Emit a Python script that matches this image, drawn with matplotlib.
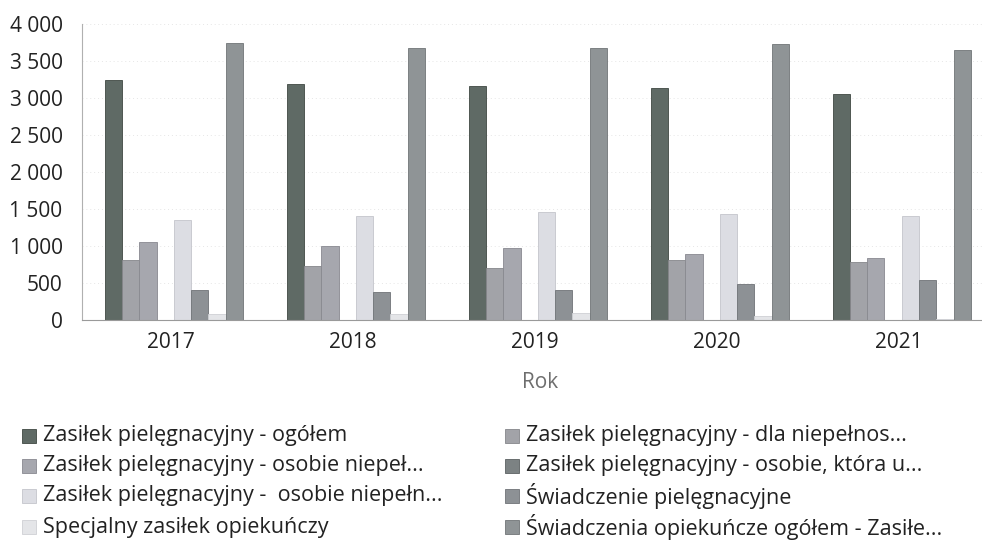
import matplotlib
matplotlib.use("Agg")
import matplotlib.pyplot as plt
from matplotlib.patches import Rectangle
from matplotlib.ticker import FuncFormatter
import numpy as np

plt.rcParams['font.family'] = ['Open Sans', 'DejaVu Sans']

years = ["2017", "2018", "2019", "2020", "2021"]

series_names = [
    "Zasiłek pielęgnacyjny - ogółem",
    "Zasiłek pielęgnacyjny - dla niepełnos...",
    "Zasiłek pielęgnacyjny - osobie niepeł...",
    "Zasiłek pielęgnacyjny - osobie, która u...",
    "Zasiłek pielęgnacyjny -  osobie niepełn...",
    "Świadczenie pielęgnacyjne",
    "Specjalny zasiłek opiekuńczy",
    "Świadczenia opiekuńcze ogółem - Zasiłe...",
]

zp_ogolem = [3240, 3190, 3160, 3130, 3050]
zp_dla_niepelnos = [810, 730, 700, 810, 780]
zp_osobie_niepel = [1055, 995, 975, 890, 840]
zp_osobie_ktora = [0, 0, 0, 0, 0]
zp_osobie_niepeln = [1350, 1405, 1455, 1430, 1405]
swiadczenie_piel = [405, 375, 405, 485, 540]
specjalny_zas = [80, 80, 90, 55, 15]
swiadczenia_ogolem = [3750, 3670, 3670, 3730, 3650]

values = [zp_ogolem, zp_dla_niepelnos, zp_osobie_niepel, zp_osobie_ktora,
          zp_osobie_niepeln, swiadczenie_piel, specjalny_zas, swiadczenia_ogolem]

colors = ["#5f6a65", "#a2a3a8", "#a6a7ae", "#7c8283",
          "#dcdde3", "#8d9195", "#e4e5e8", "#8f9496"]
edges = ["#3f4843", "#85868b", "#888990", "#5c6162",
         "#c4c5cc", "#6f7377", "#cfd0d4", "#707577"]

W, H = 982, 542
fig = plt.figure(figsize=(W / 100, H / 100), dpi=100)
left, right, top, bottom = 82, 982, 24, 320
ax = fig.add_axes([left / W, 1 - bottom / H, (right - left) / W, (bottom - top) / H])

x = np.arange(len(years))
n = len(values)
bw = 0.095
for i, (vals, c, e) in enumerate(zip(values, colors, edges)):
    offs = (i - (n - 1) / 2) * bw + 0.015
    ax.bar(x + offs, vals, width=bw, color=c, edgecolor=e, linewidth=0.6,
           label=series_names[i])

ax.set_xlim(-0.49, 4.456)
ax.set_ylim(0, 4000)
ax.set_yticks(np.arange(0, 4001, 500))
ax.yaxis.set_major_formatter(FuncFormatter(lambda v, p: f"{int(v):,}".replace(",", " ")))
ax.set_xticks(x)
ax.set_xticklabels(years)

for s in ["top", "right"]:
    ax.spines[s].set_visible(False)
ax.spines["left"].set_color("#b0b0b0")
ax.spines["bottom"].set_color("#9a9a9a")
ax.spines["left"].set_linewidth(0.8)
ax.spines["bottom"].set_linewidth(0.8)
ax.tick_params(axis="both", length=0, labelsize=15, colors="#222222")
ax.tick_params(axis="y", pad=14)
ax.tick_params(axis="x", pad=9)
ax.grid(axis="y", color="#e6e6e6", linestyle=(0, (1, 3)), linewidth=0.7)
ax.set_axisbelow(True)

fig.text(540 / W, 1 - 382 / H, "Rok", ha="center", va="center", fontsize=15, color="#6e6e6e")

# Legend: two columns, filled row by row
col_x = [22, 505]
row_y = [436, 466, 496, 527]
sw = 14
for i, name in enumerate(series_names):
    cx = col_x[i % 2]
    cy = row_y[i // 2]
    fig.patches.append(Rectangle((cx / W, 1 - (cy + sw / 2) / H), sw / W, sw / H,
                                 transform=fig.transFigure, facecolor=colors[i],
                                 edgecolor=edges[i], linewidth=0.6))
    fig.text((cx + 21) / W, 1 - cy / H, name, ha="left", va="center",
             fontsize=15.5, color="#222222")

fig.savefig("out.png", dpi=100)
